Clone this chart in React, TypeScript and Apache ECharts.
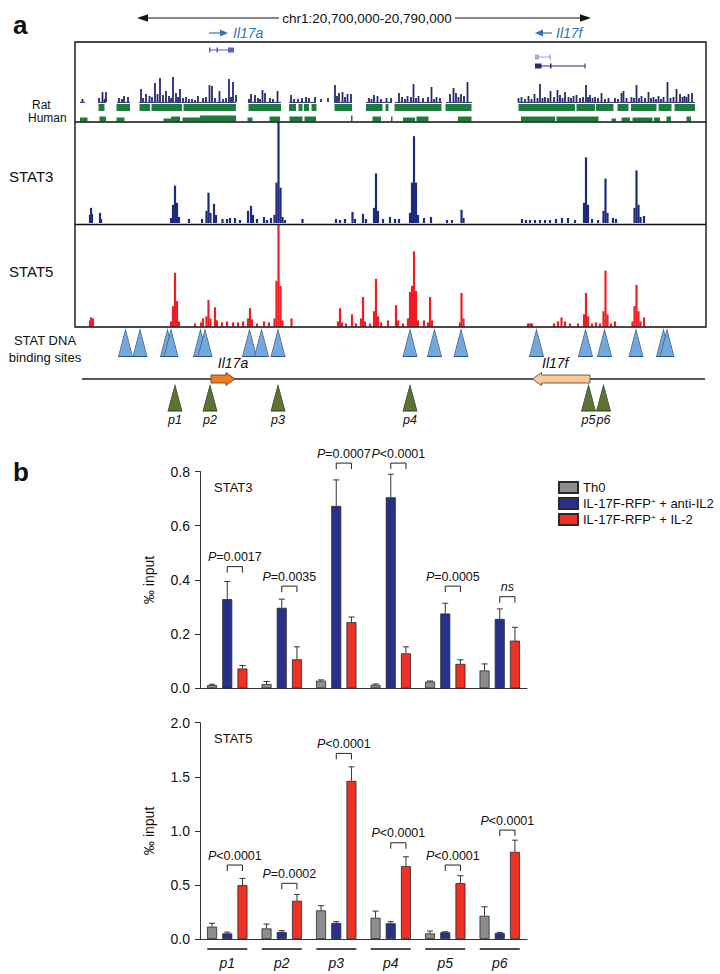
import React, { useEffect, useRef } from "react";
import * as echarts from "echarts";

const FONT = '"Liberation Sans", Arial, Helvetica, sans-serif';

// ---------- Panel a : genomic window, kb relative to chr1:20,700,000 ----------
const KB_MIN = -13;
const KB_MAX = 113.2;

// gene models (start, end, exons) in kb
const GENE_MODELS: { start: number; end: number; exons: [number, number][] }[] = [
  { start: 13.8, end: 18.8, exons: [[13.8, 14.1], [15.3, 15.6], [17.6, 18.8]] },
  { start: 79.0, end: 82.2, exons: [[79.0, 79.8], [81.9, 82.2]] },
  { start: 79.0, end: 89.1, exons: [[79.0, 80.3], [82.0, 82.3], [88.9, 89.1]] },
];

// rat conservation signal [kb, height]
const RAT_CONS: [number, number][] = [
  [-11.5, 3], [-8.2, 4], [-7.5, 10], [-7.1, 3], [-6.8, 10], [-4.2, 4], [-3.6, 3], [-3.2, 6], [-2.4, 5],
  [0.2, 13], [0.6, 4], [1.2, 8], [1.9, 6], [2.4, 5], [3.0, 19], [3.5, 8], [4.0, 24], [4.6, 7], [5.2, 11], [5.8, 6],
  [6.2, 4], [6.6, 25], [7.2, 9], [7.6, 5], [8.0, 13], [8.6, 4], [9.2, 5], [9.8, 3], [10.4, 3], [11.0, 2], [11.6, 6], [12.6, 4], [13.2, 5],
  [13.9, 17], [14.4, 16], [15.0, 4], [15.9, 11], [16.6, 3], [17.2, 4], [17.8, 23], [18.2, 5], [18.6, 20], [19.2, 7],
  [21.8, 3], [22.2, 8], [23.0, 7], [23.6, 4], [24.0, 3], [24.5, 12], [25.0, 9], [26.0, 4], [26.6, 3], [27.5, 11],
  [30.2, 7], [30.8, 3], [31.6, 3], [32.4, 4], [33.2, 5], [33.8, 4], [35.0, 5], [36.2, 3],
  [37.6, 4], [39.0, 17], [39.4, 6], [39.8, 9], [40.5, 10], [41.0, 5], [41.5, 8], [42.2, 8],
  [45.8, 4], [46.3, 3], [46.8, 7], [47.5, 6], [48.2, 3], [49.3, 4], [50.2, 4],
  [51.8, 9], [52.4, 5], [53.0, 3], [53.5, 6], [54.2, 5], [54.7, 18], [55.2, 4], [55.7, 6], [56.6, 4], [57.6, 5], [58.3, 15], [58.8, 3], [59.3, 5], [60.0, 4],
  [62.0, 8], [62.7, 14], [63.2, 9], [63.7, 5], [64.2, 8], [64.8, 6], [65.5, 20],
  [75.7, 4], [76.3, 5], [77.0, 3], [77.7, 6], [78.3, 3], [78.9, 8], [79.5, 4], [80.0, 18], [80.5, 4], [81.0, 5], [81.6, 4],
  [82.1, 11], [82.8, 5], [83.5, 12], [84.0, 7], [84.5, 4], [85.0, 10], [85.7, 5], [86.2, 4], [86.7, 6], [87.3, 7], [88.0, 4],
  [88.6, 5], [89.2, 17], [89.6, 5], [90.0, 7], [90.5, 4], [91.0, 5], [91.6, 4], [92.3, 9], [93.0, 3], [93.7, 4],
  [95.0, 4], [95.6, 3], [96.3, 9], [96.7, 11], [97.3, 4], [98.3, 5], [98.8, 4], [99.3, 17], [99.8, 4], [100.3, 6], [101.0, 4],
  [101.7, 10], [102.2, 4], [102.7, 5], [103.2, 3], [103.7, 6], [104.2, 3], [104.7, 5], [105.5, 20], [106.1, 4], [106.7, 5],
  [107.3, 13], [108.0, 8], [108.5, 5], [108.9, 6], [109.3, 5], [109.7, 8], [110.4, 9],
];

// rat conservation baseline segments [start, end]
const RAT_BASE: [number, number][] = [
  [-12.0, -11.0], [-8.4, -6.8], [-4.6, -2.0], [-0.2, 19.2], [21.6, 28.2], [29.8, 35.2], [38.8, 42.4],
  [45.2, 50.4], [51.0, 60.4], [61.2, 66.4], [75.6, 111.0],
];

// rat conserved blocks [start, end]
const RAT_BLOCKS: [number, number][] = [
  [-8.3, -7.1], [-4.7, -2.0], [-0.1, 2.0], [2.3, 8.4], [8.7, 19.2], [21.7, 28.2], [29.8, 31.2], [31.7, 32.5],
  [32.8, 33.8], [34.3, 35.3], [38.9, 42.4], [45.2, 48.5], [49.1, 49.7], [50.9, 60.3], [61.1, 66.3],
  [75.7, 87.0], [87.3, 91.0], [91.2, 94.7], [95.5, 97.7], [98.2, 103.3], [103.7, 106.3], [106.9, 111.0],
];

// human conserved blocks [start, end, depth]
const HUMAN_BLOCKS: [number, number, number][] = [
  [-12.0, -10.5, 4], [-8.1, -6.8, 5], [-4.7, -3.1, 4], [4.7, 6.2, 3], [6.2, 8.0, 5], [8.5, 12.0, 4],
  [12.0, 19.2, 6], [21.5, 22.5, 4], [25.9, 28.0, 5], [29.9, 32.5, 5], [32.9, 35.2, 5], [42.2, 42.5, 6],
  [46.5, 48.2, 5], [50.2, 50.5, 5], [52.6, 55.0, 4], [55.3, 57.7, 5], [63.6, 66.3, 5], [76.2, 83.0, 5],
  [83.3, 91.7, 5], [94.3, 95.2, 3], [96.3, 98.0, 4], [98.5, 102.5, 4], [102.8, 104.0, 4], [105.3, 106.2, 5],
  [109.3, 110.2, 5],
];

// ChIP-seq STAT3 signal [kb, height]
const STAT3_TRACK: [number, number][] = [
  [-10.0, 8], [-9.8, 15], [-9.6, 9], [-8.0, 10], [-7.8, 4],
  [6.2, 5], [6.6, 18], [7.0, 37], [7.4, 20], [7.8, 6], [9.8, 4], [12.4, 4],
  [13.3, 12], [13.7, 30], [14.1, 10], [14.8, 19], [15.2, 8],
  [16.5, 4], [17.4, 4], [18.0, 5], [19.0, 5], [20.0, 3],
  [21.6, 12], [22.2, 17], [22.6, 8], [23.4, 4], [24.8, 6], [25.4, 3], [26.2, 5],
  [26.9, 8], [27.3, 40], [27.7, 100], [28.1, 35], [28.5, 6], [29.0, 3],
  [32.5, 4],
  [39.2, 4], [40.0, 3], [41.0, 4], [42.5, 11], [43.0, 4], [44.6, 9], [45.2, 4],
  [46.8, 15], [47.2, 49], [47.6, 12], [48.6, 4], [50.0, 6], [51.0, 4], [51.8, 4],
  [54.0, 10], [54.4, 40], [54.8, 86], [55.2, 40], [55.6, 8], [56.8, 5], [58.2, 6],
  [61.4, 3], [62.4, 3], [64.3, 13], [64.7, 5],
  [76.4, 4], [77.2, 3], [78.0, 3], [79.0, 3], [80.0, 3], [81.0, 3], [82.0, 3], [83.2, 4], [84.4, 5], [85.6, 5], [87.0, 3],
  [88.8, 20], [89.2, 65], [89.6, 18], [90.4, 4], [91.6, 3],
  [92.7, 12], [93.1, 44], [93.5, 10], [94.6, 5], [95.2, 4],
  [98.9, 15], [99.3, 52], [99.7, 18], [100.1, 6], [100.8, 7],
];

// ChIP-seq STAT5 signal [kb, height]
const STAT5_TRACK: [number, number][] = [
  [-10.0, 6], [-9.8, 9], [-9.4, 8],
  [6.2, 5], [6.6, 20], [7.0, 53], [7.4, 25], [7.8, 5],
  [11.0, 3], [12.2, 4], [12.6, 8], [13.3, 10], [13.7, 26], [14.1, 8], [15.0, 19], [15.4, 6],
  [16.4, 4], [17.4, 5], [18.6, 4], [19.6, 4], [20.6, 5],
  [21.6, 8], [22.0, 18], [22.4, 7], [23.4, 3], [24.8, 5], [25.8, 4],
  [26.9, 8], [27.3, 45], [27.7, 100], [28.1, 40], [28.5, 6], [30.3, 8],
  [39.6, 5], [40.0, 18], [40.4, 4], [41.2, 3], [42.4, 12], [43.2, 3], [44.2, 8], [44.6, 29], [45.0, 5], [46.0, 3],
  [46.8, 15], [47.2, 47], [47.6, 10], [48.2, 4], [49.6, 6], [51.2, 21], [51.6, 6], [52.6, 3],
  [53.6, 8], [54.0, 34], [54.4, 40], [54.8, 74], [55.2, 35], [55.6, 6], [56.8, 6], [57.6, 4], [58.0, 29], [58.4, 6],
  [64.0, 4], [64.3, 33], [64.7, 8],
  [77.6, 3], [78.0, 3], [78.4, 3],
  [82.8, 3], [83.6, 5], [84.3, 9], [85.0, 5], [86.0, 3], [87.6, 3],
  [88.8, 12], [89.2, 33], [89.6, 10], [90.4, 3], [91.2, 4], [92.0, 3],
  [92.7, 15], [93.1, 55], [93.5, 12], [94.2, 3], [95.0, 5],
  [98.5, 5], [98.9, 20], [99.3, 41], [99.7, 15], [100.1, 5], [100.8, 9],
];

// STAT DNA binding sites (kb)
const BINDING_SITES = [-2.9, 0.0, 5.5, 6.2, 12.1, 13.0, 21.9, 24.3, 27.6, 54.0, 58.9, 64.2, 79.3, 89.1, 92.9, 99.2, 104.7, 105.4];
// ChIP primer positions (kb)
const PRIMER_SITES = [7.0, 14.0, 27.6, 54.0, 89.7, 92.7];
const PRIMER_NAMES = ["p1", "p2", "p3", "p4", "p5", "p6"];
// gene arrows [tail kb, head kb]
const GENE_ARROWS: [number, number][] = [[14.2, 19.0], [90.0, 78.5]];
const GENE_NAMES = ["Il17a", "Il17f"];

// ---------- Panel b : ChIP-qPCR ----------
const P_LABELS = ["p1", "p2", "p3", "p4", "p5", "p6"];
const SERIES_NAMES = ["Th0", "IL-17F-RFP+ + anti-IL2", "IL-17F-RFP+ + IL-2"];

const STAT3_TH0 = [0.012, 0.016, 0.028, 0.013, 0.025, 0.066];
const STAT3_TH0_ERR = [0.003, 0.009, 0.003, 0.003, 0.002, 0.024];
const STAT3_ANTI = [0.329, 0.297, 0.673, 0.705, 0.276, 0.256];
const STAT3_ANTI_ERR = [0.065, 0.032, 0.096, 0.085, 0.038, 0.037];
const STAT3_IL2 = [0.073, 0.107, 0.244, 0.129, 0.09, 0.176];
const STAT3_IL2_ERR = [0.011, 0.046, 0.019, 0.024, 0.015, 0.049];
const STAT3_PVALS = ["P=0.0017", "P=0.0035", "P=0.0007", "P<0.0001", "P=0.0005", "ns"];
const STAT3_BRACKET = [0.449, 0.377, 0.831, 0.831, 0.377, 0.338];

const STAT5_TH0 = [0.114, 0.098, 0.265, 0.197, 0.052, 0.215];
const STAT5_TH0_ERR = [0.031, 0.04, 0.043, 0.061, 0.022, 0.083];
const STAT5_ANTI = [0.052, 0.065, 0.148, 0.145, 0.062, 0.055];
const STAT5_ANTI_ERR = [0.012, 0.012, 0.012, 0.015, 0.005, 0.006];
const STAT5_IL2 = [0.498, 0.354, 1.462, 0.674, 0.517, 0.806];
const STAT5_IL2_ERR = [0.062, 0.058, 0.13, 0.086, 0.068, 0.108];
const STAT5_PVALS = ["P<0.0001", "P=0.0002", "P<0.0001", "P<0.0001", "P<0.0001", "P<0.0001"];
const STAT5_BRACKET = [0.684, 0.515, 1.716, 0.89, 0.684, 1.007];

const STAT3_TICKS = [0, 0.2, 0.4, 0.6, 0.8];
const STAT5_TICKS = [0, 0.5, 1.0, 1.5, 2.0];

// ---------- styling constants ----------
const BAR_COLORS = ["#8d8d8d", "#28318a", "#ee3124"];
const BAR_OFFSETS = [-15.2, 0, 15.2];
const GENE_ROWS = [6, 13, 22];
const GENE_COLORS = ["#5b5fc2", "#a9a7de", "#272b7a"];
const ARROW_FILLS = ["#f07c1c", "#fcc898"];
const ARROW_LABEL_DX = [10, -6];

function T(text: string, x: number, y: number, o: any = {}) {
  const align = o.align || "left";
  return {
    type: "text",
    x,
    y,
    z: 50,
    style: {
      text,
      fontFamily: FONT,
      fontSize: 13,
      fill: "#111",
      align,
      textAlign: align,
      verticalAlign: "middle",
      textVerticalAlign: "middle",
      ...o,
    },
  };
}
function L(x1: number, y1: number, x2: number, y2: number, color = "#111", w = 1.2, z = 50) {
  return { type: "line", z, shape: { x1, y1, x2, y2 }, style: { stroke: color, lineWidth: w } };
}
function P(points: number[][], color = "#111") {
  return { type: "polygon", z: 50, shape: { points }, style: { fill: color } };
}

function genomeAxis(i: number) {
  return { type: "value", gridIndex: i, min: KB_MIN, max: KB_MAX, show: false };
}

function barSeries(ax: number, k: number, data: number[]) {
  return {
    type: "bar",
    name: SERIES_NAMES[k],
    xAxisIndex: ax,
    yAxisIndex: ax,
    data,
    barWidth: 10,
    barGap: "52%",
    silent: true,
    z: 3,
    itemStyle: { color: BAR_COLORS[k], borderColor: "#2a2a2a", borderWidth: 0.8 },
  };
}

function errSeries(ax: number, k: number, values: number[], errs: number[]) {
  return {
    type: "custom",
    xAxisIndex: ax,
    yAxisIndex: ax,
    silent: true,
    z: 4,
    data: values.map((v, i) => [i, v, errs[i]]),
    renderItem: (params: any, api: any) => {
      const base = api.coord([api.value(0), api.value(1)]);
      const top = api.coord([api.value(0), api.value(1) + api.value(2)]);
      const x = base[0] + BAR_OFFSETS[k];
      return {
        type: "group",
        children: [
          { type: "line", shape: { x1: x, y1: base[1], x2: x, y2: top[1] }, style: { stroke: "#333", lineWidth: 1 } },
          { type: "line", shape: { x1: x - 3, y1: top[1], x2: x + 3, y2: top[1] }, style: { stroke: "#333", lineWidth: 1 } },
        ],
      };
    },
  };
}

function bracketSeries(ax: number, levels: number[], labels: string[]) {
  const rich = {
    i: { fontStyle: "italic", fontSize: 12.5, fontFamily: FONT, fill: "#111", color: "#111" },
    n: { fontSize: 12.5, fontFamily: FONT, fill: "#111", color: "#111" },
  };
  return {
    type: "custom",
    xAxisIndex: ax,
    yAxisIndex: ax,
    silent: true,
    z: 5,
    data: levels.map((l, i) => [i, l]),
    renderItem: (params: any, api: any) => {
      const c = api.coord([api.value(0), api.value(1)]);
      const xl = c[0] + BAR_OFFSETS[1];
      const xr = c[0] + BAR_OFFSETS[2];
      const y = c[1];
      const lab = labels[params.dataIndex];
      const text = lab.charAt(0) === "P" ? "{i|P}{n|" + lab.slice(1) + "}" : "{i|" + lab + "}";
      return {
        type: "group",
        children: [
          {
            type: "polyline",
            shape: { points: [[xl, y + 6], [xl, y], [xr, y], [xr, y + 6]] },
            style: { stroke: "#222", lineWidth: 1, fill: "none" },
          },
          {
            type: "text",
            style: {
              text,
              x: (xl + xr) / 2,
              y: y - 3,
              align: "center",
              textAlign: "center",
              verticalAlign: "bottom",
              textVerticalAlign: "bottom",
              fontFamily: FONT,
              fontSize: 12.5,
              fill: "#111",
              rich,
            },
          },
        ],
      };
    },
  };
}

function valueYAxis(grid: number, max: number, interval: number) {
  return {
    type: "value",
    gridIndex: grid,
    min: 0,
    max,
    interval,
    name: "\u2030 input",
    nameLocation: "middle",
    nameGap: 44,
    nameRotate: 90,
    nameTextStyle: { fontSize: 14, fontFamily: FONT, color: "#111" },
    axisLine: { show: true, lineStyle: { color: "#333", width: 1 } },
    axisTick: { show: true, length: 5, lineStyle: { color: "#333" } },
    axisLabel: { fontSize: 14, fontFamily: FONT, color: "#111", margin: 10, formatter: (v: number) => v.toFixed(1) },
    splitLine: { show: false },
  };
}

function buildOption(): any {
  const graphics: any[] = [
    T("a", 13, 25, { fontSize: 26, fontWeight: "bold" }),
    T("b", 13, 472, { fontSize: 26, fontWeight: "bold" }),
    // chromosome window arrow
    L(146, 18, 279, 18), P([[137, 18], [148, 14.3], [148, 21.7]]),
    T("chr1:20,700,000-20,790,000", 367, 18, { align: "center", fontSize: 13.5 }),
    L(455, 18, 582, 18), P([[591, 18], [580, 14.3], [580, 21.7]]),
    // gene direction labels
    L(209, 33, 222, 33, "#2f74b5"), P([[228, 33], [220, 29.5], [220, 36.5]], "#2f74b5"),
    T("Il17a", 233, 33, { fontStyle: "italic", fontSize: 14, fill: "#2f74b5" }),
    P([[535, 33], [543, 29.5], [543, 36.5]], "#2f74b5"), L(541, 33, 552, 33, "#2f74b5"),
    T("Il17f", 556, 33, { fontStyle: "italic", fontSize: 14, fill: "#2f74b5" }),
    // track labels
    T("Rat", 32, 105, { fontSize: 12 }),
    T("Human", 28, 118, { fontSize: 12 }),
    T("STAT3", 9, 176, { fontSize: 15 }),
    T("STAT5", 9, 271, { fontSize: 15 }),
    T("STAT DNA", 45, 340, { align: "center", fontSize: 13 }),
    T("binding sites", 45, 357, { align: "center", fontSize: 13 }),
    // frame
    { type: "rect", z: 60, shape: { x: 75, y: 42, width: 631, height: 285 }, style: { fill: "none", stroke: "#111", lineWidth: 1.4 } },
    L(75, 122, 706, 122, "#111", 1.4, 60),
    L(75, 224.5, 706, 224.5, "#111", 1.4, 60),
    // locus line
    L(82, 379, 705, 379, "#222", 1.3, 0),
    // bar chart titles
    T("STAT3", 214, 487, { fontSize: 13 }),
    T("STAT5", 214, 738, { fontSize: 13 }),
  ];

  const series: any[] = [
    // gene models
    {
      type: "custom",
      xAxisIndex: 0,
      yAxisIndex: 0,
      silent: true,
      data: GENE_MODELS.map((g) => [g.start, g.end]),
      renderItem: (params: any, api: any) => {
        const i = params.dataIndex;
        const g = GENE_MODELS[i];
        const row = GENE_ROWS[i];
        const s = api.coord([g.start, row]);
        const e = api.coord([g.end, row]);
        const children: any[] = [
          { type: "line", shape: { x1: s[0], y1: s[1], x2: e[0], y2: e[1] }, style: { stroke: GENE_COLORS[i], lineWidth: 1 } },
        ];
        g.exons.forEach(([a, b]) => {
          const p = api.coord([a, row]);
          const q = api.coord([b, row]);
          children.push({
            type: "rect",
            shape: { x: p[0], y: p[1] - 2.5, width: Math.max(1, q[0] - p[0]), height: 5 },
            style: { fill: GENE_COLORS[i] },
          });
        });
        return { type: "group", children };
      },
    },
    // rat conservation spikes
    {
      type: "bar",
      xAxisIndex: 1,
      yAxisIndex: 1,
      silent: true,
      barWidth: 1.8,
      data: RAT_CONS,
      itemStyle: { color: "#27296f" },
    },
    // rat baseline
    {
      type: "custom",
      xAxisIndex: 2,
      yAxisIndex: 2,
      silent: true,
      data: RAT_BASE,
      renderItem: (params: any, api: any) => {
        const s = api.coord([api.value(0), 0.4]);
        const e = api.coord([api.value(1), 0.4]);
        return { type: "line", shape: { x1: s[0], y1: s[1], x2: e[0], y2: e[1] }, style: { stroke: "#27296f", lineWidth: 1 } };
      },
    },
    // rat blocks
    {
      type: "custom",
      xAxisIndex: 2,
      yAxisIndex: 2,
      silent: true,
      data: RAT_BLOCKS,
      renderItem: (params: any, api: any) => {
        const s = api.coord([api.value(0), 2]);
        const e = api.coord([api.value(1), 9]);
        return { type: "rect", shape: { x: s[0], y: s[1], width: e[0] - s[0], height: e[1] - s[1] }, style: { fill: "#1f7a3e" } };
      },
    },
    // human blocks
    {
      type: "custom",
      xAxisIndex: 2,
      yAxisIndex: 2,
      silent: true,
      data: HUMAN_BLOCKS,
      renderItem: (params: any, api: any) => {
        const s = api.coord([api.value(0), 19.5 - api.value(2)]);
        const e = api.coord([api.value(1), 19.5]);
        return { type: "rect", shape: { x: s[0], y: s[1], width: e[0] - s[0], height: e[1] - s[1] }, style: { fill: "#1f7a3e" } };
      },
    },
    // STAT3 track
    {
      type: "bar",
      xAxisIndex: 3,
      yAxisIndex: 3,
      silent: true,
      barWidth: 2.2,
      data: STAT3_TRACK,
      itemStyle: { color: "#1f2a7c" },
    },
    // STAT5 track
    {
      type: "bar",
      xAxisIndex: 4,
      yAxisIndex: 4,
      silent: true,
      barWidth: 2.2,
      data: STAT5_TRACK,
      itemStyle: { color: "#ee1d23" },
    },
    // gene arrows
    {
      type: "custom",
      xAxisIndex: 5,
      yAxisIndex: 5,
      silent: true,
      z: 3,
      data: GENE_ARROWS,
      renderItem: (params: any, api: any) => {
        const i = params.dataIndex;
        const t = api.coord([api.value(0), 52]);
        const h = api.coord([api.value(1), 52]);
        const lab = api.coord([api.value(0), 36]);
        const dir = h[0] > t[0] ? 1 : -1;
        const y = t[1];
        const hb = h[0] - dir * 9;
        return {
          type: "group",
          children: [
            {
              type: "polygon",
              shape: { points: [[t[0], y - 4], [hb, y - 4], [hb, y - 6.5], [h[0], y], [hb, y + 6.5], [hb, y + 4], [t[0], y + 4]] },
              style: { fill: ARROW_FILLS[i], stroke: "#4a3a2a", lineWidth: 0.8 },
            },
            {
              type: "text",
              style: {
                text: GENE_NAMES[i],
                x: (t[0] + h[0]) / 2 + ARROW_LABEL_DX[i],
                y: lab[1],
                align: "center",
                textAlign: "center",
                verticalAlign: "middle",
                textVerticalAlign: "middle",
                fontFamily: FONT,
                fontSize: 14,
                fontStyle: "italic",
                fill: "#111",
              },
            },
          ],
        };
      },
    },
    // STAT binding sites
    {
      type: "scatter",
      xAxisIndex: 5,
      yAxisIndex: 5,
      silent: true,
      symbol: "triangle",
      symbolSize: [14, 27],
      data: BINDING_SITES.map((k) => [k, 16]),
      itemStyle: { color: "#74a8da", borderColor: "#2f5680", borderWidth: 0.8, opacity: 1 },
    },
    // primers
    {
      type: "scatter",
      xAxisIndex: 5,
      yAxisIndex: 5,
      silent: true,
      symbol: "triangle",
      symbolSize: [14, 26],
      data: PRIMER_SITES.map((k) => [k, 71]),
      itemStyle: { color: "#5b7436", borderColor: "#2f3d1a", borderWidth: 0.8, opacity: 1 },
      label: {
        show: true,
        position: "bottom",
        distance: 2,
        formatter: (p: any) => PRIMER_NAMES[p.dataIndex],
        fontStyle: "italic",
        fontSize: 12.5,
        fontFamily: FONT,
        color: "#111",
      },
    },
    // STAT3 bars
    barSeries(6, 0, STAT3_TH0),
    barSeries(6, 1, STAT3_ANTI),
    barSeries(6, 2, STAT3_IL2),
    errSeries(6, 0, STAT3_TH0, STAT3_TH0_ERR),
    errSeries(6, 1, STAT3_ANTI, STAT3_ANTI_ERR),
    errSeries(6, 2, STAT3_IL2, STAT3_IL2_ERR),
    bracketSeries(6, STAT3_BRACKET, STAT3_PVALS),
    // STAT5 bars
    barSeries(7, 0, STAT5_TH0),
    barSeries(7, 1, STAT5_ANTI),
    barSeries(7, 2, STAT5_IL2),
    errSeries(7, 0, STAT5_TH0, STAT5_TH0_ERR),
    errSeries(7, 1, STAT5_ANTI, STAT5_ANTI_ERR),
    errSeries(7, 2, STAT5_IL2, STAT5_IL2_ERR),
    bracketSeries(7, STAT5_BRACKET, STAT5_PVALS),
    // group underlines
    {
      type: "custom",
      xAxisIndex: 7,
      yAxisIndex: 7,
      silent: true,
      z: 3,
      data: P_LABELS.map((_, i) => [i, 0]),
      renderItem: (params: any, api: any) => {
        const c = api.coord([api.value(0), 0]);
        return {
          type: "line",
          shape: { x1: c[0] - 20, y1: c[1] + 10, x2: c[0] + 20, y2: c[1] + 10 },
          style: { stroke: "#111", lineWidth: 1.3 },
        };
      },
    },
  ];

  return {
    animation: false,
    backgroundColor: "#ffffff",
    textStyle: { fontFamily: FONT },
    grid: [
      { left: 75, top: 44, width: 631, height: 28 },
      { left: 75, top: 75, width: 631, height: 27 },
      { left: 75, top: 102, width: 631, height: 20 },
      { left: 75, top: 122, width: 631, height: 101 },
      { left: 75, top: 225, width: 631, height: 101.5 },
      { left: 75, top: 327, width: 631, height: 100 },
      { left: 200, top: 471.5, width: 327, height: 216.8 },
      { left: 200, top: 722.7, width: 327, height: 216.3 },
    ],
    xAxis: [
      genomeAxis(0), genomeAxis(1), genomeAxis(2), genomeAxis(3), genomeAxis(4), genomeAxis(5),
      {
        type: "category",
        gridIndex: 6,
        data: P_LABELS,
        axisLine: { lineStyle: { color: "#333", width: 1 } },
        axisTick: { alignWithLabel: true, length: 5, lineStyle: { color: "#333" } },
        axisLabel: { show: false },
      },
      {
        type: "category",
        gridIndex: 7,
        data: P_LABELS,
        axisLine: { lineStyle: { color: "#333", width: 1 } },
        axisTick: { alignWithLabel: true, length: 10, lineStyle: { color: "#111" } },
        axisLabel: { show: true, fontStyle: "italic", fontSize: 14, fontFamily: FONT, color: "#111", margin: 17 },
      },
    ],
    yAxis: [
      { type: "value", gridIndex: 0, min: 0, max: 28, inverse: true, show: false },
      { type: "value", gridIndex: 1, min: 0, max: 27, show: false },
      { type: "value", gridIndex: 2, min: 0, max: 20, inverse: true, show: false },
      { type: "value", gridIndex: 3, min: 0, max: 100, show: false },
      { type: "value", gridIndex: 4, min: 0, max: 100, show: false },
      { type: "value", gridIndex: 5, min: 0, max: 100, inverse: true, show: false },
      valueYAxis(6, STAT3_TICKS[STAT3_TICKS.length - 1], STAT3_TICKS[1]),
      valueYAxis(7, STAT5_TICKS[STAT5_TICKS.length - 1], STAT5_TICKS[1]),
    ],
    legend: {
      data: SERIES_NAMES,
      orient: "vertical",
      left: 553,
      top: 476,
      itemWidth: 19,
      itemHeight: 11,
      itemGap: 3,
      icon: "rect",
      selectedMode: false,
      formatter: (n: string) => n.replace("RFP+", "RFP{sup|+}"),
      textStyle: {
        fontSize: 13,
        fontFamily: FONT,
        color: "#111",
        rich: { sup: { fontSize: 8, fontFamily: FONT, color: "#111", verticalAlign: "top" } },
      },
    },
    graphic: { elements: graphics },
    series,
  };
}

export default function App() {
  const ref = useRef<HTMLDivElement>(null);
  useEffect(() => {
    document.body.style.margin = "0";
    const chart = echarts.init(ref.current as HTMLDivElement, null, { renderer: "svg" });
    chart.setOption(buildOption());
    return () => chart.dispose();
  }, []);
  return <div ref={ref} style={{ width: 720, height: 974 }} />;
}
